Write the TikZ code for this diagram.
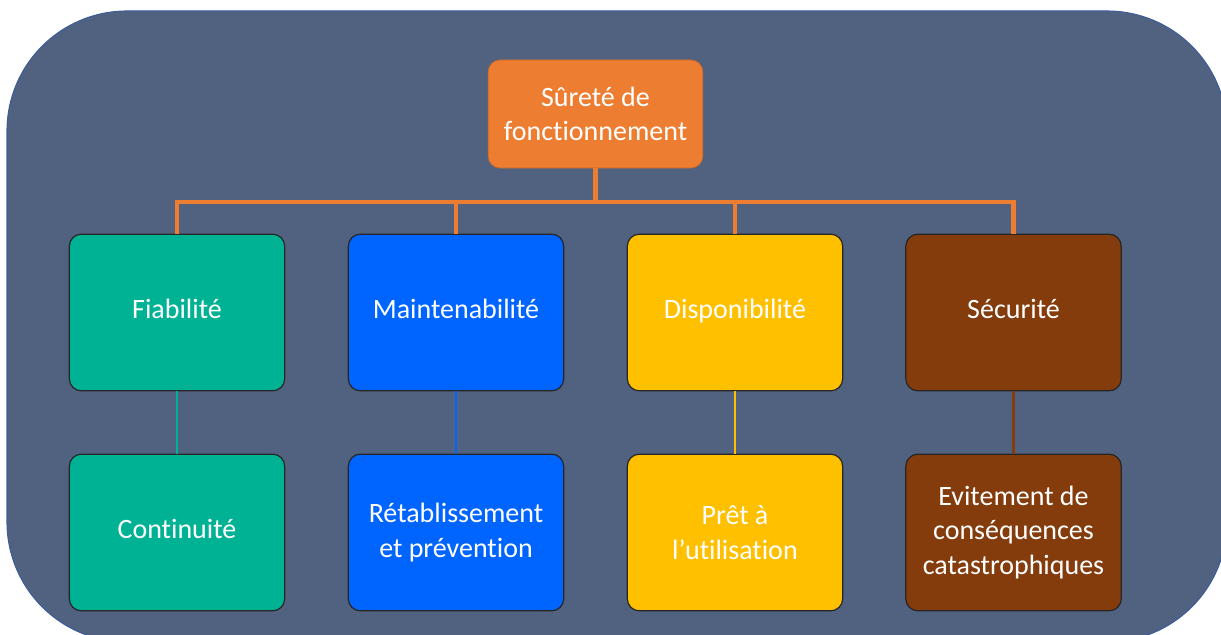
\documentclass[tikz,border=0pt]{standalone}
\usepackage{fontspec}
\setmainfont{Carlito}[Ligatures={NoCommon,NoRequired,NoContextual}]
\begin{document}
\definecolor{panel}{HTML}{506280}
\definecolor{panelrim}{HTML}{3E5C9A}
\definecolor{rootc}{HTML}{ED7D31}
\definecolor{greenc}{HTML}{00B294}
\definecolor{bluec}{HTML}{0064FF}
\definecolor{yellowc}{HTML}{FFC000}
\definecolor{brownc}{HTML}{843C0C}
\begin{tikzpicture}[x=0.75pt,y=-0.75pt,
  box/.style={draw=black!85, line width=0.9pt, rounded corners=9pt,
    minimum width=161.5pt, minimum height=117.5pt, text=white,
    align=center, font=\fontsize{21}{26}\selectfont, inner sep=2pt},
  oneline/.style={text height=9pt, text depth=0pt},
  root/.style={draw=rootc!85!black, line width=0.6pt, fill=rootc, rounded corners=9pt,
    minimum width=161pt, minimum height=81pt, text=white,
    align=center, font=\fontsize{21}{25.5}\selectfont},
  bus/.style={draw=rootc, line width=3.2pt},
  link/.style={line width=1.6pt}]
\useasboundingbox (0,0) rectangle (1221,635);
% framed panel behind the chart
\begin{scope}
  \clip (0,0) rectangle (1221,635);
  \fill[panel, draw=panelrim, line width=0.8pt, rounded corners=90pt] (7,11) rectangle (1227,642);
\end{scope}
% root
\node[root] (top) at (595.5,114) {Sûreté de\\fonctionnement};
% second level
\node[box, oneline, fill=greenc]  (f) at (177,312.5) {Fiabilité};
\node[box, oneline, fill=bluec]   (m) at (456,312.5) {Maintenabilité};
\node[box, oneline, fill=yellowc] (d) at (735,312.5) {Disponibilité};
\node[box, oneline, fill=brownc]  (s) at (1013.5,312.5) {Sécurité};
% third level
\node[box, oneline, fill=greenc]  (f2) at (177,532.5) {Continuité};
\node[box, fill=bluec]   (m2) at (456,532.5) {Rétablissement\\et prévention};
\node[box, fill=yellowc] (d2) at (735,532.5) {Prêt à\\l’utilisation};
\node[box, fill=brownc]  (s2) at (1013.5,532.5) {Evitement de\\conséquences\\catastrophiques};
% orange tree connectors
\coordinate (hub) at (595.5,202);
\draw[bus] (top.south) -- (hub);
\draw[bus] (hub) -| (f.north);
\draw[bus] (hub) -| (m.north);
\draw[bus] (hub) -| (d.north);
\draw[bus] (hub) -| (s.north);
% vertical links
\draw[link, greenc]  (f.south) -- (f2.north);
\draw[link, bluec]   (m.south) -- (m2.north);
\draw[link, yellowc] (d.south) -- (d2.north);
\draw[link, brownc]  (s.south) -- (s2.north);
\end{tikzpicture}
\end{document}
